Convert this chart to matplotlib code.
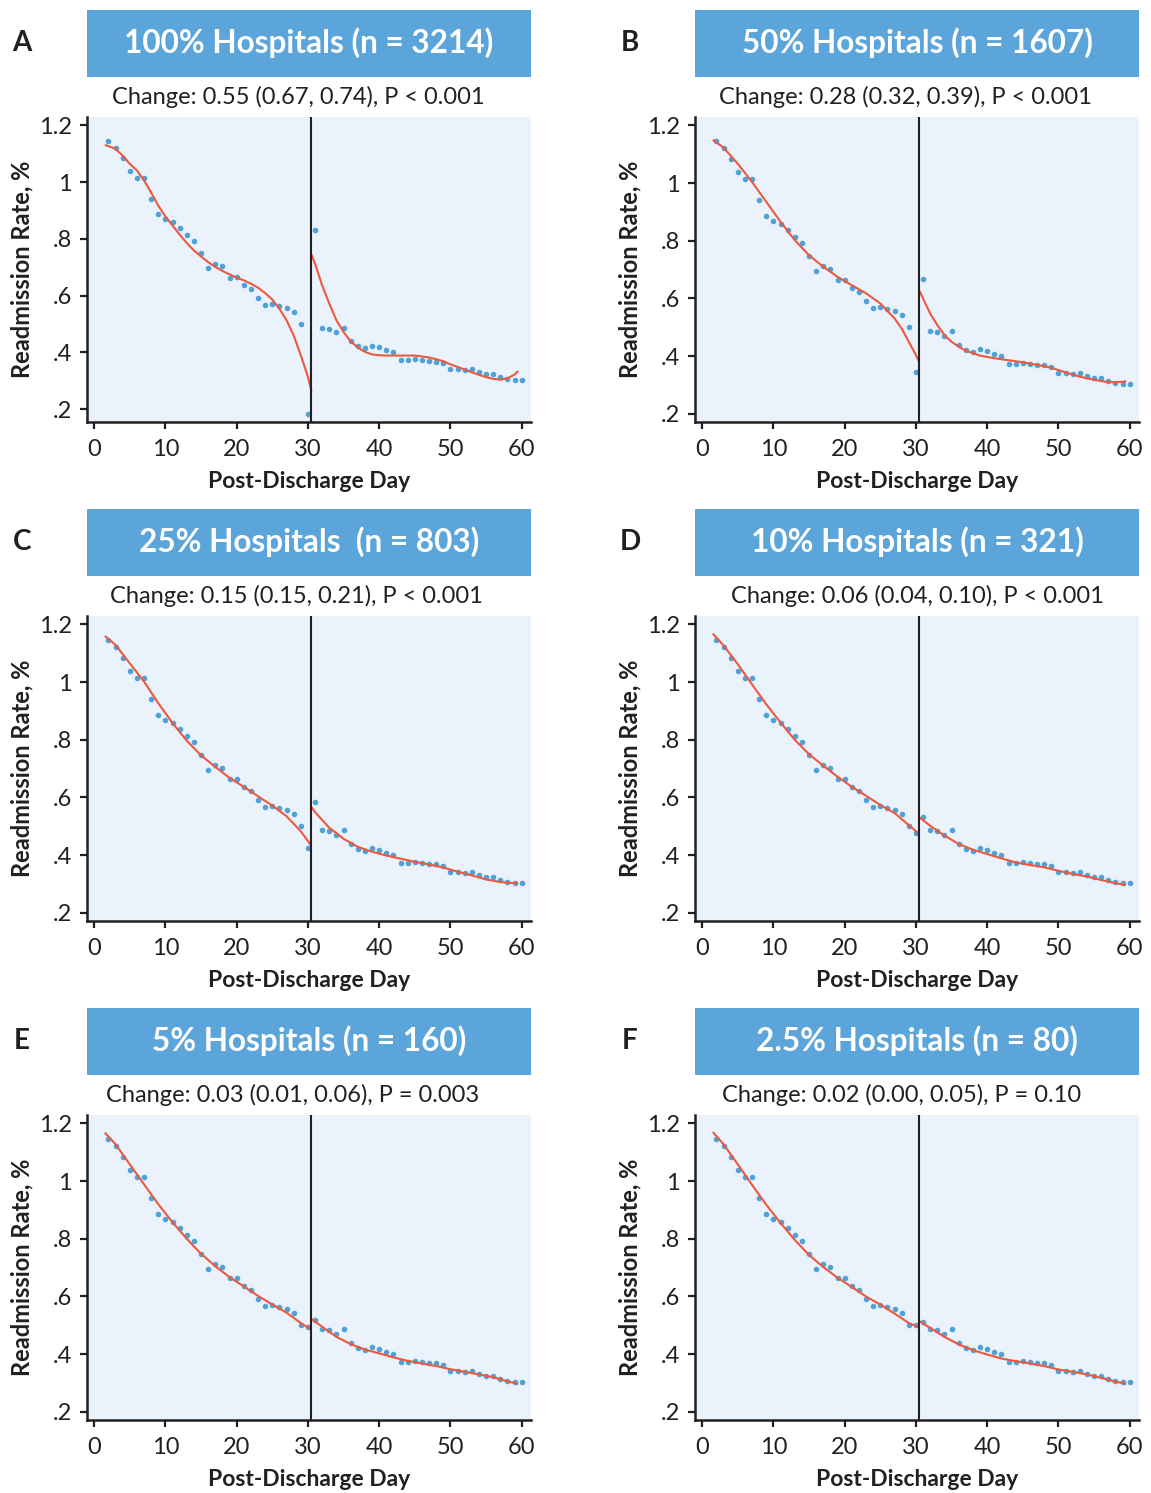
import numpy as np
import matplotlib
matplotlib.use("Agg")
import matplotlib.pyplot as plt
from matplotlib.patches import Rectangle

# ---------------- data ----------------
days_pre = list(range(2, 30))
rate_pre = [1.146, 1.121, 1.084, 1.039, 1.014, 1.014, 0.940, 0.887, 0.869, 0.859,
            0.839, 0.813, 0.791, 0.749, 0.697, 0.712, 0.703, 0.663, 0.665, 0.637,
            0.622, 0.593, 0.568, 0.569, 0.563, 0.556, 0.542, 0.501]
days_post = list(range(32, 61))
rate_post = [0.486, 0.483, 0.471, 0.487, 0.439, 0.423, 0.416, 0.424, 0.419, 0.408,
             0.402, 0.372, 0.372, 0.378, 0.374, 0.370, 0.368, 0.364, 0.342, 0.343,
             0.338, 0.341, 0.332, 0.323, 0.325, 0.314, 0.306, 0.303, 0.302]

panels = ["A", "B", "C", "D", "E", "F"]
titles = ["100% Hospitals (n = 3214)", "50% Hospitals (n = 1607)",
          "25% Hospitals  (n = 803)", "10% Hospitals (n = 321)",
          "5% Hospitals (n = 160)", "2.5% Hospitals (n = 80)"]
changes = ["Change: 0.55 (0.67, 0.74), P < 0.001",
           "Change: 0.28 (0.32, 0.39), P < 0.001",
           "Change: 0.15 (0.15, 0.21), P < 0.001",
           "Change: 0.06 (0.04, 0.10), P < 0.001",
           "Change: 0.03 (0.01, 0.06), P = 0.003",
           "Change: 0.02 (0.00, 0.05), P = 0.10"]
rate_day30 = [0.184, 0.344, 0.425, 0.477, 0.493, 0.500]
rate_day31 = [0.832, 0.667, 0.585, 0.533, 0.520, 0.512]

fitA_pre_x = [1.5, 3, 4, 5, 6, 7, 8, 9, 10, 11, 12, 13, 14, 15, 16, 17, 18, 19, 20,
              21, 22, 23, 24, 25, 26, 27, 28, 29, 30, 30.5]
fitA_pre_y = [1.131, 1.117, 1.093, 1.064, 1.041, 1.006, 0.963, 0.917, 0.879, 0.847,
              0.815, 0.785, 0.759, 0.738, 0.718, 0.701, 0.687, 0.675, 0.663, 0.654,
              0.642, 0.628, 0.609, 0.586, 0.554, 0.513, 0.460, 0.390, 0.314, 0.264]
fitA_post_x = [30.5, 31, 32, 33, 34, 35, 36, 37, 38, 39, 40, 41, 42, 43, 44, 45, 46,
               47, 48, 49, 50, 51, 52, 53, 54, 55, 56, 57, 58, 59, 59.5]
fitA_post_y = [0.745, 0.712, 0.636, 0.572, 0.513, 0.472, 0.439, 0.417, 0.402, 0.393,
               0.390, 0.389, 0.389, 0.389, 0.389, 0.389, 0.386, 0.382, 0.376, 0.369,
               0.358, 0.349, 0.340, 0.330, 0.321, 0.313, 0.307, 0.304, 0.309, 0.322,
               0.335]

fitB_pre_x = [1.5, 3, 5, 7, 9, 11, 13, 15, 17, 19, 21, 23, 25, 27, 28, 29, 30, 30.5]
fitB_pre_y = [1.150, 1.123, 1.067, 1.004, 0.935, 0.866, 0.802, 0.750, 0.710, 0.675,
              0.646, 0.618, 0.583, 0.531, 0.496, 0.450, 0.404, 0.378]
fitB_post_x = [30.5, 31, 32, 33, 34, 35, 36, 37, 39, 41, 43, 45, 47, 49, 51, 53, 55,
               57, 59, 59.5]
fitB_post_y = [0.627, 0.600, 0.548, 0.508, 0.473, 0.450, 0.433, 0.419, 0.402, 0.393,
               0.386, 0.379, 0.370, 0.360, 0.344, 0.329, 0.318, 0.310, 0.311, 0.314]

fitC_pre_x = [1.5, 3, 5, 7, 9, 11, 13, 15, 17, 19, 21, 23, 25, 27, 29, 30, 30.5]
fitC_pre_y = [1.160, 1.129, 1.065, 1.002, 0.927, 0.858, 0.797, 0.746, 0.706, 0.668,
              0.637, 0.604, 0.572, 0.535, 0.483, 0.449, 0.432]
fitC_post_x = [30.5, 31, 33, 35, 37, 39, 41, 43, 45, 47, 49, 51, 53, 55, 57, 59, 59.5]
fitC_post_y = [0.567, 0.549, 0.495, 0.457, 0.429, 0.412, 0.399, 0.388, 0.377, 0.368,
               0.357, 0.343, 0.330, 0.316, 0.307, 0.303, 0.303]

fit_pre_x = [1.5, 3, 5, 7, 9, 11, 13, 15, 17, 19, 21, 23, 25, 27, 29, 30.5]
fit_post_x = [30.5, 32, 34, 36, 38, 40, 42, 44, 46, 48, 50, 52, 54, 56, 58, 59.5]
fitD_pre_y = [1.168, 1.127, 1.062, 0.992, 0.923, 0.860, 0.800, 0.750, 0.710, 0.672,
              0.637, 0.606, 0.574, 0.546, 0.504, 0.473]
fitD_post_y = [0.531, 0.502, 0.468, 0.439, 0.419, 0.404, 0.389, 0.375, 0.366, 0.358,
               0.346, 0.335, 0.326, 0.314, 0.303, 0.297]
fitE_pre_y = [1.168, 1.128, 1.058, 0.989, 0.920, 0.857, 0.800, 0.748, 0.705, 0.667,
              0.635, 0.602, 0.572, 0.544, 0.508, 0.485]
fitE_post_y = [0.522, 0.495, 0.460, 0.435, 0.416, 0.403, 0.389, 0.377, 0.368, 0.359,
               0.348, 0.339, 0.330, 0.320, 0.306, 0.297]
fitF_pre_y = [1.170, 1.128, 1.058, 0.987, 0.918, 0.855, 0.796, 0.744, 0.702, 0.665,
              0.633, 0.600, 0.572, 0.541, 0.508, 0.492]
fitF_post_y = [0.514, 0.491, 0.460, 0.434, 0.414, 0.399, 0.385, 0.376, 0.368, 0.359,
               0.347, 0.339, 0.330, 0.318, 0.305, 0.297]

fits = [
    (fitA_pre_x, fitA_pre_y, fitA_post_x, fitA_post_y),
    (fitB_pre_x, fitB_pre_y, fitB_post_x, fitB_post_y),
    (fitC_pre_x, fitC_pre_y, fitC_post_x, fitC_post_y),
    (fit_pre_x, fitD_pre_y, fit_post_x, fitD_post_y),
    (fit_pre_x, fitE_pre_y, fit_post_x, fitE_post_y),
    (fit_pre_x, fitF_pre_y, fit_post_x, fitF_post_y),
]

xticks = [0, 10, 20, 30, 40, 50, 60]
yticks = [0.2, 0.4, 0.6, 0.8, 1.0, 1.2]
ytick_labels = [".2", ".4", ".6", ".8", "1", "1.2"]
cutoff = 30.5

# ---------------- style ----------------
W, H = 1151, 1493
FONT = ["Lato", "DejaVu Sans"]
plt.rcParams["font.family"] = FONT
TXT = "#231f20"
BOX = "#5ba5da"
BG = "#eaf2fb"
DOT = "#4fa1da"
RED = "#ee583d"

fig = plt.figure(figsize=(W / 100, H / 100), dpi=100)

col_left = [87, 695]
row_top = [117, 616, 1115]
ax_w, ax_h = 444, 305
change_shift = [-11, -12, -13, 0, -16, -15]   # horizontal offset of subtitle, px

for i, p in enumerate(panels):
    r, c = divmod(i, 2)
    left = col_left[c]
    top = row_top[r]
    ax = fig.add_axes([left / W, (H - top - ax_h) / H, ax_w / W, ax_h / H])
    ax.set_facecolor(BG)
    ylo = 0.155 if i == 0 else 0.172
    ax.set_xlim(-1.0, 61.3)
    ax.set_ylim(ylo, 1.229)

    xs = days_pre + [30, 31] + days_post
    ys = rate_pre + [rate_day30[i], rate_day31[i]] + rate_post
    ax.scatter(xs, ys, s=16, color=DOT, linewidths=0, zorder=3)
    fx1, fy1, fx2, fy2 = fits[i]
    ax.plot(fx1, fy1, color=RED, lw=1.5, zorder=4, solid_capstyle="butt")
    ax.plot(fx2, fy2, color=RED, lw=1.5, zorder=4, solid_capstyle="butt")
    ax.axvline(cutoff, color=TXT, lw=1.5, zorder=5)

    for s in ["top", "right"]:
        ax.spines[s].set_visible(False)
    for s in ["left", "bottom"]:
        ax.spines[s].set_color(TXT)
        ax.spines[s].set_linewidth(1.8)
    ax.set_xticks(xticks)
    ax.set_xticklabels([str(t) for t in xticks])
    ax.set_yticks(yticks)
    ax.set_yticklabels(ytick_labels)
    ax.tick_params(axis="both", direction="out", length=5, width=1.6, color=TXT,
                   labelcolor=TXT, labelsize=17, pad=6)
    ax.tick_params(axis="x", pad=7)
    ax.set_xlabel("Post-Discharge Day", fontsize=16.5, fontweight="bold", color=TXT,
                  labelpad=8)

    # title box
    fig.patches.append(Rectangle((left / W, (H - (top - 40)) / H), ax_w / W, 67 / H,
                                 transform=fig.transFigure, facecolor=BOX,
                                 edgecolor="none"))
    fig.text((left + ax_w / 2) / W, (H - (top - 74)) / H, titles[i], color="white",
             fontsize=22.7, fontweight="bold", ha="center", va="center")
    fig.text((left + ax_w / 2 + change_shift[i]) / W, (H - (top - 20)) / H, changes[i],
             color=TXT, fontsize=17, ha="center", va="center")
    fig.text((left - 65) / W, (H - (top - 74)) / H, p, color=TXT, fontsize=20,
             fontweight="bold", ha="center", va="center")
    fig.text((left - 65) / W, (H - (top + 152)) / H, "Readmission Rate, %", color=TXT,
             fontsize=17, fontweight="bold", rotation=90, ha="center", va="center")

fig.savefig("out.png", dpi=100)
